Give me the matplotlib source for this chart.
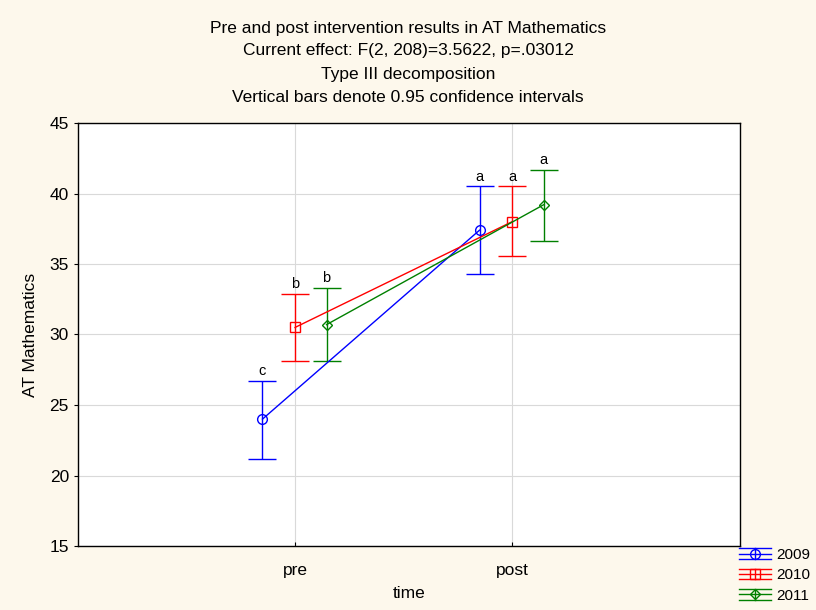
import numpy as np
import matplotlib
matplotlib.use("Agg")
import matplotlib.pyplot as plt
from matplotlib.legend_handler import HandlerBase
from matplotlib.lines import Line2D

plt.rcParams['font.family'] = ['Liberation Sans', 'DejaVu Sans']

# group means and 0.95 CI limits, pre / post
times = ['pre', 'post']
years = ['2009', '2010', '2011']
mean_2009 = [24.0, 37.4]
low_2009 = [21.2, 34.3]
high_2009 = [26.7, 40.5]
mean_2010 = [30.5, 38.0]
low_2010 = [28.1, 35.6]
high_2010 = [32.9, 40.5]
mean_2011 = [30.7, 39.2]
low_2011 = [28.1, 36.6]
high_2011 = [33.3, 41.7]
letters_2009 = ['c', 'a']
letters_2010 = ['b', 'a']
letters_2011 = ['b', 'a']

series = [
    (mean_2009, low_2009, high_2009, letters_2009, 'blue', 'o', -0.15),
    (mean_2010, low_2010, high_2010, letters_2010, 'red', 's', 0.0),
    (mean_2011, low_2011, high_2011, letters_2011, 'green', 'D', 0.145),
]


class HandlerCI(HandlerBase):
    # legend key: line through marker with a whisker line above and below
    def create_artists(self, legend, orig, xd, yd, width, height, fontsize, trans):
        color = orig.get_color()
        mk = orig.get_marker()
        ms = orig.get_markersize()
        cy = height / 2 - yd
        h = 0.5 * height
        arts = []
        for dy in (-h, 0, h):
            arts.append(Line2D([-xd, -xd + width], [cy + dy, cy + dy], color=color, lw=1, transform=trans))
        arts.append(Line2D([-xd + width / 2, -xd + width / 2], [cy - h, cy + h],
                           color=color, lw=1, transform=trans))
        arts.append(Line2D([-xd + width / 2], [cy], marker=mk, ms=ms, mfc='none', mec=color, lw=0,
                           transform=trans))
        return arts


fig = plt.figure(figsize=(8.16, 6.10), dpi=100, facecolor='#fdf8ec')
ax = fig.add_axes([78 / 816, 1 - 546 / 610, 662 / 816, 423 / 610])
ax.set_facecolor('white')

x = np.arange(len(times))
handles = []
for (m, lo, hi, lab, c, mk, off), yr in zip(series, years):
    m = np.array(m)
    err = [m - np.array(lo), np.array(hi) - m]
    xs = x + off
    ax.errorbar(xs, m, yerr=err, fmt='none', ecolor=c, elinewidth=1, capsize=10, capthick=1, zorder=3)
    ms = {'o': 7, 's': 6.5, 'D': 5.5}[mk]
    ax.plot(xs, m, color=c, lw=1, marker=mk, ms=ms, mfc='none', mec=c, mew=1, zorder=4)
    for xi, hv, t in zip(xs, hi, lab):
        ax.text(xi, hv + 0.2, t, ha='center', va='bottom', fontsize=10.5)
    handles.append(Line2D([], [], color=c, marker=mk, ms=ms, label=yr))

ax.set_xlim(-1.0, 2.05)
ax.set_ylim(15, 45)
ax.set_xticks(x)
ax.set_xticklabels(times)
ax.set_yticks(np.arange(15, 46, 5))
ax.grid(True, color='#d9d9d9', lw=0.8)
ax.set_axisbelow(True)
ax.tick_params(axis='both', labelsize=12.5, length=3, width=0.8)
ax.tick_params(axis='x', direction='in', pad=12)
for s in ax.spines.values():
    s.set_linewidth(1)
ax.set_xlabel('time', fontsize=12.5, labelpad=6)
ax.set_ylabel('AT Mathematics', fontsize=12.5, labelpad=8)

title_lines = [
    'Pre and post intervention results in AT Mathematics',
    'Current effect: F(2, 208)=3.5622, p=.03012',
    'Type III decomposition',
    'Vertical bars denote 0.95 confidence intervals',
]
for i, line in enumerate(title_lines):
    fig.text(0.5, 1 - (28 + 23 * i) / 610, line, ha='center', va='center', fontsize=12.5)

fig.legend(handles=handles, handler_map={Line2D: HandlerCI()}, loc='upper left',
           bbox_to_anchor=(739 / 816, 1 - 548 / 610), frameon=False, fontsize=11,
           handlelength=2.1, handletextpad=0.35, labelspacing=0.42, borderpad=0,
           borderaxespad=0)

fig.savefig('out.png', dpi=100, facecolor=fig.get_facecolor())
